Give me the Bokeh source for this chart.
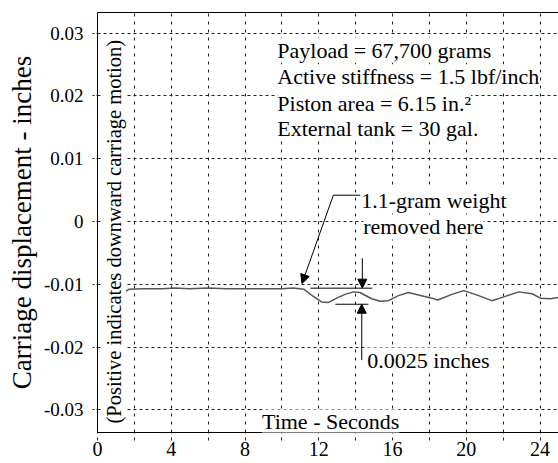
import math
from bokeh.plotting import figure
from bokeh.models import Range1d, FixedTicker, LinearAxis, Label, Arrow, NormalHead, ColumnDataSource
from bokeh.embed import file_html
from bokeh.resources import INLINE

# ---- data ----
time_s = [1.55, 1.7, 2.5, 3.5, 4.2, 5.0, 6.0, 7.0, 8.0, 9.0, 10.0, 10.6, 11.2, 11.6,
          12.15, 12.5, 12.97, 13.42, 13.88, 14.23, 14.87, 15.32, 15.78, 16.32, 16.86,
          17.41, 18.13, 18.45, 19.22, 19.85, 20.67, 21.39, 22.03, 22.84, 23.57, 24.02,
          24.56, 25.0]
disp_in = [-0.0111, -0.0108, -0.0107, -0.0107, -0.0106, -0.0107, -0.0106, -0.0107,
           -0.0107, -0.0107, -0.0107, -0.0106, -0.0108, -0.0117, -0.0128, -0.0129,
           -0.0122, -0.0116, -0.0112, -0.0113, -0.0123, -0.0127, -0.0126, -0.0118,
           -0.0113, -0.0117, -0.0122, -0.0125, -0.0116, -0.0110, -0.0118, -0.0126,
           -0.0120, -0.0112, -0.0115, -0.0122, -0.0123, -0.0121]

x_ticks = [0, 4, 8, 12, 16, 20, 24]
x_minor = [2, 6, 10, 14, 18, 22]
y_ticks = [-0.03, -0.02, -0.01, 0, 0.01, 0.02, 0.03]
y_labels = ["-0.03", "-0.02", "-0.01", "0", "0.01", "0.02", "0.03"]

info_lines = ["Payload = 67,700 grams",
              "Active stiffness = 1.5 lbf/inch",
              "Piston area = 6.15 in.\u00b2",
              "External tank = 30 gal."]
weight_lines = ["1.1-gram weight", "removed here"]
delta_text = "0.0025 inches"
x_title = "Time - Seconds"
y_title = "Carriage displacement - inches"
note_text = "(Positive indicates downward carriage motion)"

TITLE_FONT = "Liberation Serif"
FONT = "Liberation Serif, serif"

p = figure(width=558, height=463,
           x_range=Range1d(0, 25), y_range=Range1d(-0.0336, 0.0333),
           output_backend="svg", toolbar_location=None,
           min_border_left=97, min_border_right=0, min_border_top=12, min_border_bottom=31)
p.outline_line_color = None
p.background_fill_color = "white"

xt = FixedTicker(ticks=x_ticks, minor_ticks=x_minor)
yt = FixedTicker(ticks=y_ticks)
p.xaxis.ticker = xt
p.yaxis.ticker = yt
p.xgrid.ticker = xt
p.ygrid.ticker = yt
p.yaxis.major_label_overrides = dict(zip(y_ticks, y_labels))

for ax in (p.xaxis, p.yaxis):
    ax.axis_line_color = "black"
    ax.axis_line_width = 1
    ax.major_label_text_color = "black"
    ax.major_label_text_font_style = "normal"
    ax.major_tick_in = 0
    ax.minor_tick_in = 0
    ax.major_tick_line_color = "#222222"
    ax.minor_tick_line_color = "#222222"

p.xaxis.major_label_text_font = "Times New Roman, serif"
p.yaxis.major_label_text_font = "serif"
p.xaxis.major_label_text_font_size = "20px"
p.xaxis.major_tick_out = 8
p.xaxis.minor_tick_out = 8
p.xaxis.major_tick_line_dash = "3 4"
p.xaxis.minor_tick_line_dash = "3 4"
p.xaxis.major_label_standoff = 1

p.yaxis.major_label_text_font_size = "19px"
p.yaxis.major_tick_out = 5
p.yaxis.minor_tick_out = 0
p.yaxis.minor_tick_line_color = None
p.yaxis.major_tick_line_dash = "2 2"
p.yaxis.major_label_standoff = 9
p.yaxis.axis_label = y_title
p.yaxis.axis_label_text_font = TITLE_FONT
p.yaxis.axis_label_text_font_size = "27px"
p.yaxis.axis_label_text_font_style = "normal"
p.yaxis.axis_label_text_color = "black"
p.yaxis.axis_label_standoff = 4

top_axis = LinearAxis(ticker=FixedTicker(ticks=[]), major_label_text_font_size="0px",
                      major_tick_out=0, major_tick_in=0, minor_tick_out=0, minor_tick_in=0,
                      major_label_standoff=0, axis_line_color="black")
p.add_layout(top_axis, "above")

p.xgrid.grid_line_color = "#222222"
p.xgrid.grid_line_dash = "3 5"
p.xgrid.minor_grid_line_color = "#222222"
p.xgrid.minor_grid_line_dash = "3 5"
p.ygrid.grid_line_color = "#222222"
p.ygrid.grid_line_dash = "3 3"

src = ColumnDataSource(dict(t=time_s, d=disp_in))
p.line("t", "d", source=src, line_color="#555555", line_width=1.5)

def lbl(x, y, text, size="22px", **kw):
    l = Label(x=x, y=y, text=text, text_font=FONT, text_font_size=size,
              text_font_style="normal",
              text_color="black", background_fill_color="white", **kw)
    p.add_layout(l)
    return l

for txt, yb in zip(info_lines, [0.0273, 0.02304, 0.0188, 0.01482]):
    lbl(9.75, yb, txt, text_baseline="alphabetic")

lbl(14.30, 0.0034, weight_lines[0], text_baseline="alphabetic")
lbl(14.41, -0.00085, weight_lines[1], text_baseline="alphabetic")
lbl(14.63, -0.02207, delta_text, text_baseline="alphabetic")
lbl(8.92, -0.03191, x_title, text_baseline="alphabetic")
lbl(0.906, -0.00162, note_text, size="20.5px", angle=math.pi / 2,
    text_align="center", text_baseline="middle")

def line(x0, y0, x1, y1, head=False):
    end = NormalHead(size=9, fill_color="black", line_color="black") if head else None
    p.add_layout(Arrow(x_start=x0, y_start=y0, x_end=x1, y_end=y1, end=end,
                       line_color="black", line_width=1))

line(14.25, 0.0042, 12.79, 0.0042)
line(12.79, 0.0042, 11.09, -0.00987, head=True)
line(11.54, -0.01061, 14.90, -0.01061)
line(12.90, -0.01317, 14.69, -0.01317)
line(14.36, -0.00584, 14.36, -0.01061, head=True)
line(14.33, -0.02207, 14.33, -0.01317, head=True)

open("out.html", "w").write(file_html(p, INLINE))
